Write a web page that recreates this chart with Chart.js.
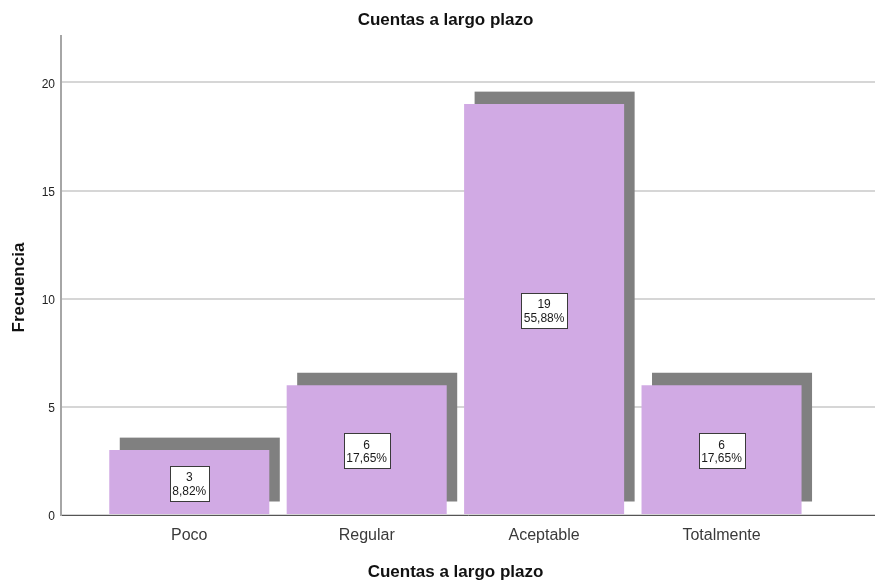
<!DOCTYPE html>
<html><head><meta charset="utf-8">
<script src="https://cdn.jsdelivr.net/npm/chart.js@4"></script>
<style>html,body{margin:0;padding:0;background:#fff}#wrap{width:875px;height:582px;position:relative}</style>
</head><body><div id="wrap"><canvas id="c"></canvas></div>
<script>
const categories = ['Poco', 'Regular', 'Aceptable', 'Totalmente'];
const frequencies = [3, 6, 19, 6];
const percentLabels = ['8,82%', '17,65%', '55,88%', '17,65%'];
const yTicks = [0, 5, 10, 15, 20];
const chartTitle = 'Cuentas a largo plazo';
const xTitle = 'Cuentas a largo plazo';
const yTitle = 'Frecuencia';

const FONT = '"Liberation Sans", Arial, Helvetica, sans-serif';

const shadowPlugin = {
  id: 'barShadow',
  beforeDatasetsDraw(chart) {
    const ctx = chart.ctx;
    const meta = chart.getDatasetMeta(0);
    ctx.save();
    ctx.fillStyle = '#808080';
    meta.data.forEach(bar => {
      const p = bar.getProps(['x', 'y', 'base', 'width'], true);
      ctx.fillRect(p.x - p.width / 2 + 10.5, p.y - 12.5, p.width, p.base - p.y);
    });
    ctx.restore();
  }
};

const labelPlugin = {
  id: 'barLabels',
  afterDatasetsDraw(chart) {
    const ctx = chart.ctx;
    const meta = chart.getDatasetMeta(0);
    ctx.save();
    ctx.font = '12px ' + FONT;
    ctx.textAlign = 'center';
    ctx.textBaseline = 'alphabetic';
    meta.data.forEach((bar, i) => {
      const p = bar.getProps(['x', 'y', 'base'], true);
      const cx = p.x, cy = (p.y + p.base) / 2 + 1;
      const l1 = String(frequencies[i]), l2 = percentLabels[i];
      const w = Math.max(ctx.measureText(l1).width, ctx.measureText(l2).width) + 5;
      const h = 35;
      const bx = Math.round(cx - w / 2) + 0.5, by = Math.round(cy - h / 2) + 0.5;
      ctx.fillStyle = '#ffffff';
      ctx.fillRect(bx, by, Math.round(w), h);
      ctx.strokeStyle = '#3a3a3a';
      ctx.lineWidth = 1;
      ctx.strokeRect(bx, by, Math.round(w), h);
      ctx.fillStyle = '#1a1a1a';
      ctx.fillText(l1, cx, cy - 2);
      ctx.fillText(l2, cx, cy + 11.5);
    });
    ctx.restore();
  }
};

const titlePlugin = {
  id: 'titles',
  afterDraw(chart) {
    const ctx = chart.ctx;
    ctx.save();
    ctx.fillStyle = '#111';
    ctx.font = 'bold 17px ' + FONT;
    ctx.textAlign = 'center';
    ctx.textBaseline = 'alphabetic';
    ctx.fillText(chartTitle, 445.5, 25);
    ctx.fillText(xTitle, 455.5, 577);
    ctx.translate(24, 287.5);
    ctx.rotate(-Math.PI / 2);
    ctx.fillText(yTitle, 0, 0);
    ctx.restore();
  }
};

new Chart(document.getElementById('c'), {
  type: 'bar',
  data: {
    datasets: [{
      data: categories.map((c, i) => ({ x: i, y: frequencies[i] })),
      backgroundColor: '#D1AAE4',
      borderWidth: 0,
      barPercentage: 0.902,
      categoryPercentage: 1
    }]
  },
  plugins: [shadowPlugin, labelPlugin, titlePlugin],
  options: {
    responsive: true,
    maintainAspectRatio: false,
    animation: false,
    layout: { padding: { top: 36, left: 0, right: 0, bottom: 0 } },
    plugins: { legend: { display: false }, title: { display: false }, tooltip: { enabled: false } },
    scales: {
      x: {
        type: 'linear',
        offset: false,
        min: -0.723,
        max: 3.865,
        afterBuildTicks: s => { s.ticks = categories.map((c, i) => ({ value: i })); },
        afterFit: s => { s.height = 67; },
        ticks: {
          callback: v => categories[v] ?? '',
          font: { family: FONT, size: 16 },
          color: '#3a3a3a',
          padding: 11,
          maxRotation: 0,
          autoSkip: false
        },
        grid: { display: false, drawTicks: false },
        border: { display: true, color: '#555', width: 1 }
      },
      y: {
        min: 0,
        max: 22.15,
        afterBuildTicks: s => { s.ticks = yTicks.map(v => ({ value: v })); },
        afterFit: s => { s.width = 61; },
        ticks: {
          font: { family: FONT, size: 12 },
          color: '#222',
          padding: 6,
          labelOffset: 2
        },
        grid: { color: '#d6d6d6', lineWidth: 2, drawTicks: false, tickLength: 0 },
        border: { display: true, color: '#a6a6a6', width: 2 }
      }
    }
  }
});
</script>
</body></html>
